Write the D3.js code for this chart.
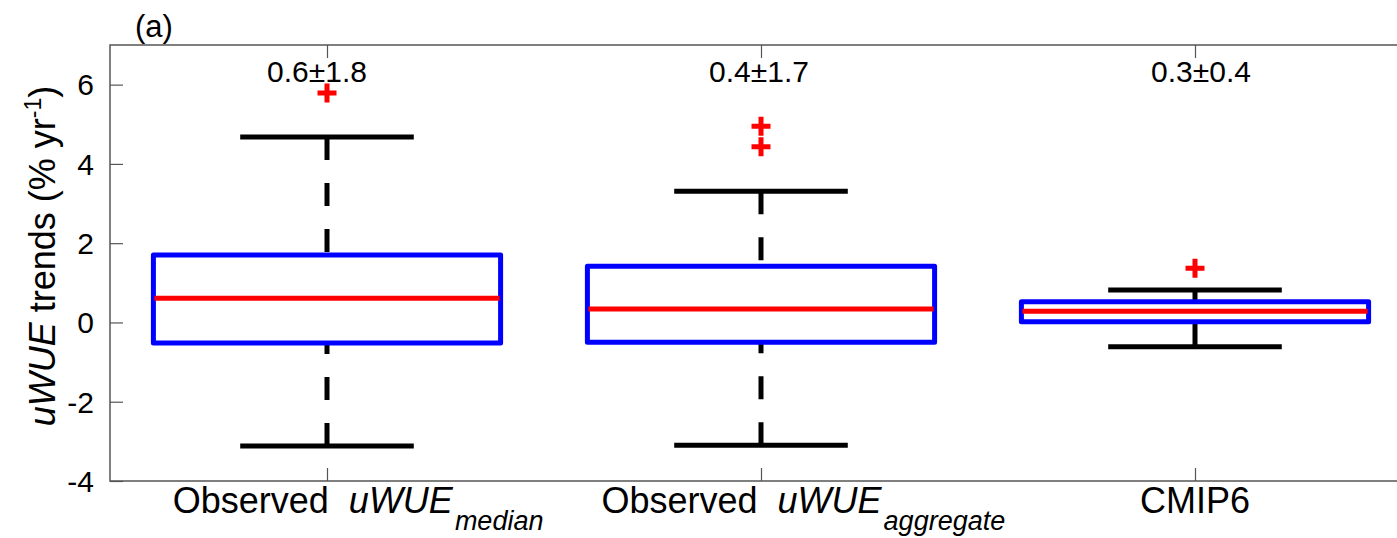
<!DOCTYPE html>
<html>
<head>
<meta charset="utf-8">
<script src="https://cdn.jsdelivr.net/npm/d3@7"></script>
<style>
  html, body { margin: 0; padding: 0; background: #fff; }
  svg { display: block; font-family: "Liberation Sans", Arial, Helvetica, sans-serif; }
  text { white-space: pre; }
</style>
</head>
<body>
<svg id="chart" width="1397" height="538"></svg>
<script>
// Category labels, split into plain / italic / subscript parts
const labelPlain = ["Observed  ", "Observed  ", "CMIP6"];
const labelItalic = ["uWUE", "uWUE", ""];
const labelSub = ["median", "aggregate", ""];
const categories = ["median", "aggregate", "cmip6"];

// Box-plot statistics of uWUE trends (% per year)
const whiskerLow = [-3.12, -3.10, -0.61];
const q1 = [-0.52, -0.50, 0.02];
const median = [0.61, 0.34, 0.28];
const q3 = [1.70, 1.42, 0.52];
const whiskerHigh = [4.68, 3.31, 0.82];
const outliers = [[5.79], [4.95, 4.43], [1.37]];
const summaries = ["0.6\u00b11.8", "0.4\u00b11.7", "0.3\u00b10.4"];

const yTicks = [-4, -2, 0, 2, 4, 6];

const svg = d3.select("#chart");
const plotLeft = 110, plotTop = 45, plotBottom = 481, plotRight = 1412;

const x = d3.scalePoint().domain(categories).range([plotLeft, plotRight]).padding(0.5);
const y = d3.scaleLinear().domain([-4, 7]).range([plotBottom, plotTop]);
const step = x.step();
const boxW = 0.8 * step, capW = 0.4 * step;

const axisColor = "#555555";

// Frame
svg.append("rect")
  .attr("x", plotLeft).attr("y", plotTop)
  .attr("width", plotRight - plotLeft).attr("height", plotBottom - plotTop)
  .attr("fill", "none").attr("stroke", axisColor).attr("stroke-width", 1.5);

// Y axis (ticks inward, both sides)
const yAxis = svg.append("g").attr("transform", `translate(${plotLeft},0)`)
  .call(d3.axisRight(y).tickValues(yTicks).tickSize(13).tickFormat(""));
yAxis.select(".domain").remove();
yAxis.selectAll("line").attr("stroke", axisColor).attr("stroke-width", 1.2);

const yAxisR = svg.append("g").attr("transform", `translate(${plotRight - 2},0)`)
  .call(d3.axisLeft(y).tickValues(yTicks).tickSize(13).tickFormat(""));
yAxisR.select(".domain").remove();
yAxisR.selectAll("line").attr("stroke", "#bbbbbb").attr("stroke-width", 1);

svg.append("g").selectAll("text").data(yTicks).join("text")
  .attr("x", 94).attr("y", d => y(d))
  .attr("dy", "0.36em")
  .attr("text-anchor", "end")
  .attr("font-size", 30)
  .text(d => d);

// X axis ticks (bottom and top, inward)
const xAxisB = svg.append("g").attr("transform", `translate(0,${plotBottom})`)
  .call(d3.axisTop(x).tickSize(13).tickFormat(""));
xAxisB.select(".domain").remove();
xAxisB.selectAll("line").attr("stroke", axisColor).attr("stroke-width", 1.2);
const xAxisT = svg.append("g").attr("transform", `translate(0,${plotTop})`)
  .call(d3.axisBottom(x).tickSize(13).tickFormat(""));
xAxisT.select(".domain").remove();
xAxisT.selectAll("line").attr("stroke", axisColor).attr("stroke-width", 1.2);

// X tick labels: main part plus trailing subscript, centred with a
// reduced weight for the subscript width
categories.forEach((c, i) => {
  const t = svg.append("text")
    .attr("y", 513)
    .attr("font-size", 36);
  t.append("tspan").text(labelPlain[i]);
  if (labelItalic[i]) t.append("tspan").attr("font-style", "italic").text(labelItalic[i]);
  const mainW = t.node().getComputedTextLength();
  let subW = 0, sub = null;
  if (labelSub[i]) {
    sub = svg.append("text")
      .attr("y", 530)
      .attr("font-size", 27).attr("font-style", "italic")
      .text(labelSub[i]);
    subW = sub.node().getComputedTextLength();
  }
  const start = x(c) - (mainW + 0.32 * subW) / 2;
  t.attr("x", start);
  if (sub) sub.attr("x", start + mainW + 2);
});

// Y label
const yl = svg.append("text")
  .attr("transform", `translate(55,256) rotate(-90)`)
  .attr("text-anchor", "middle")
  .attr("font-size", 36);
yl.append("tspan").attr("font-style", "italic").text("uWUE");
yl.append("tspan").text(" trends (% yr");
yl.append("tspan").attr("font-size", 23).attr("dy", -14).text("-1");
yl.append("tspan").attr("dy", 14).text(")");

// Panel letter
svg.append("text").attr("x", 135).attr("y", 37).attr("font-size", 31).text("(a)");

// Boxes
const g = svg.append("g");
categories.forEach((c, i) => {
  const cx = x(c);
  // whiskers, dashed, drawn from the cap toward the box
  [[whiskerHigh[i], q3[i]], [whiskerLow[i], q1[i]]].forEach(([a, b]) => {
    g.append("line")
      .attr("x1", cx).attr("x2", cx).attr("y1", y(a)).attr("y2", y(b))
      .attr("stroke", "#000").attr("stroke-width", 5)
      .attr("stroke-dasharray", "23,23");
    g.append("line")
      .attr("x1", cx - capW / 2).attr("x2", cx + capW / 2)
      .attr("y1", y(a)).attr("y2", y(a))
      .attr("stroke", "#000").attr("stroke-width", 5);
  });
  g.append("rect")
    .attr("x", cx - boxW / 2).attr("y", y(q3[i]))
    .attr("width", boxW).attr("height", y(q1[i]) - y(q3[i]))
    .attr("fill", "none").attr("stroke", "#0000ff").attr("stroke-width", 5)
    .attr("stroke-linejoin", "round");
  g.append("line")
    .attr("x1", cx - boxW / 2 + 1).attr("x2", cx + boxW / 2 - 1)
    .attr("y1", y(median[i])).attr("y2", y(median[i]))
    .attr("stroke", "#ff0000").attr("stroke-width", 5);
  // outliers as red plus markers
  outliers[i].forEach(v => {
    const py = y(v), s = 9.5;
    g.append("path")
      .attr("d", `M${cx - s},${py}H${cx + s}M${cx},${py - s}V${py + s}`)
      .attr("stroke", "#ff0000").attr("stroke-width", 5);
  });
  // summary text
  svg.append("text")
    .attr("x", cx + 8 * i - 10).attr("y", 82)
    .attr("text-anchor", "middle")
    .attr("font-size", 30)
    .text(summaries[i]);
});
</script>
</body>
</html>
